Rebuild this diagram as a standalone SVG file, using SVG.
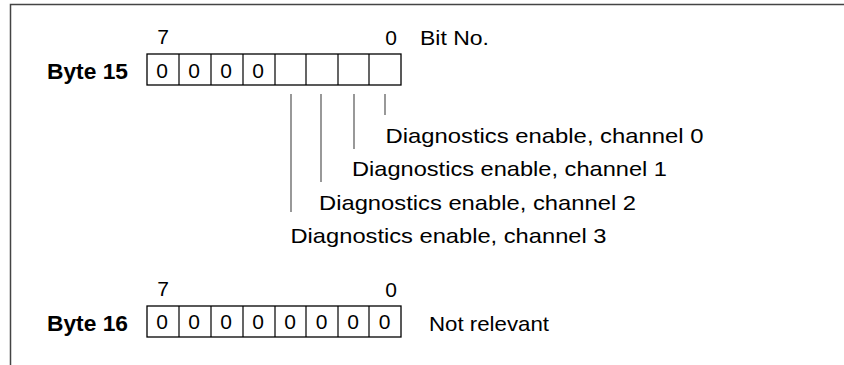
<svg xmlns="http://www.w3.org/2000/svg" width="844" height="365" viewBox="0 0 844 365">
<style>
  text { font-family: "Liberation Sans", Arial, sans-serif; fill: #000; }
  .bold { font-weight: bold; font-size: 22px; }
  .lbl { font-size: 21px; }
  .dig { font-size: 21px; text-anchor: middle; }
  .box { fill: #fff; stroke: #000; stroke-width: 1.3; }
  .div { stroke: #000; stroke-width: 1.2; }
  .lead { stroke: #444; stroke-width: 1.1; fill: none; }
  .frame { stroke: #444; stroke-width: 1.5; fill: none; }
</style>
<rect width="844" height="365" fill="#fff"/>
<path class="frame" d="M10.5,365 V4.5 H844"/>

<g id="byte15">
  <text class="bold" x="47" y="79" textLength="81" lengthAdjust="spacingAndGlyphs">Byte 15</text>
  <text class="lbl" x="163" y="44" text-anchor="middle">7</text>
  <text class="lbl" x="391" y="45" text-anchor="middle">0</text>
  <text class="lbl" x="420" y="45" textLength="69" lengthAdjust="spacingAndGlyphs">Bit No.</text>
  <rect class="box" x="147" y="54" width="254" height="31"/>
  <path class="div" d="M179,54V85 M211,54V85 M243,54V85 M275,54V85 M306,54V85 M338,54V85 M369,54V85"/>
  <text class="dig" x="162" y="78">0</text>
  <text class="dig" x="194" y="78">0</text>
  <text class="dig" x="226" y="78">0</text>
  <text class="dig" x="258" y="78">0</text>
</g>

<g id="connectors">
  <line class="lead" x1="385" y1="94" x2="385" y2="115"/>
  <line class="lead" x1="354" y1="94" x2="354" y2="149"/>
  <line class="lead" x1="321" y1="94" x2="321" y2="182"/>
  <line class="lead" x1="291" y1="94" x2="291" y2="212"/>
</g>

<g id="ch0"><text class="lbl" x="385.5" y="143" textLength="318" lengthAdjust="spacingAndGlyphs">Diagnostics enable, channel 0</text></g>
<g id="ch1"><text class="lbl" x="352" y="176" textLength="315" lengthAdjust="spacingAndGlyphs">Diagnostics enable, channel 1</text></g>
<g id="ch2"><text class="lbl" x="319" y="210" textLength="317" lengthAdjust="spacingAndGlyphs">Diagnostics enable, channel 2</text></g>
<g id="ch3"><text class="lbl" x="290.5" y="243" textLength="316" lengthAdjust="spacingAndGlyphs">Diagnostics enable, channel 3</text></g>

<g id="byte16">
  <text class="bold" x="47" y="331" textLength="81" lengthAdjust="spacingAndGlyphs">Byte 16</text>
  <text class="lbl" x="163" y="296" text-anchor="middle">7</text>
  <text class="lbl" x="391" y="297" text-anchor="middle">0</text>
  <rect class="box" x="147" y="306" width="254" height="31"/>
  <path class="div" d="M179,306V337 M211,306V337 M243,306V337 M275,306V337 M306,306V337 M338,306V337 M369,306V337"/>
  <text class="dig" x="162" y="329">0</text>
  <text class="dig" x="194" y="329">0</text>
  <text class="dig" x="226" y="329">0</text>
  <text class="dig" x="258" y="329">0</text>
  <text class="dig" x="290" y="329">0</text>
  <text class="dig" x="321.5" y="329">0</text>
  <text class="dig" x="353" y="329">0</text>
  <text class="dig" x="384.5" y="329">0</text>
  <text class="lbl" x="429" y="331" textLength="120" lengthAdjust="spacingAndGlyphs">Not relevant</text>
</g>
</svg>
